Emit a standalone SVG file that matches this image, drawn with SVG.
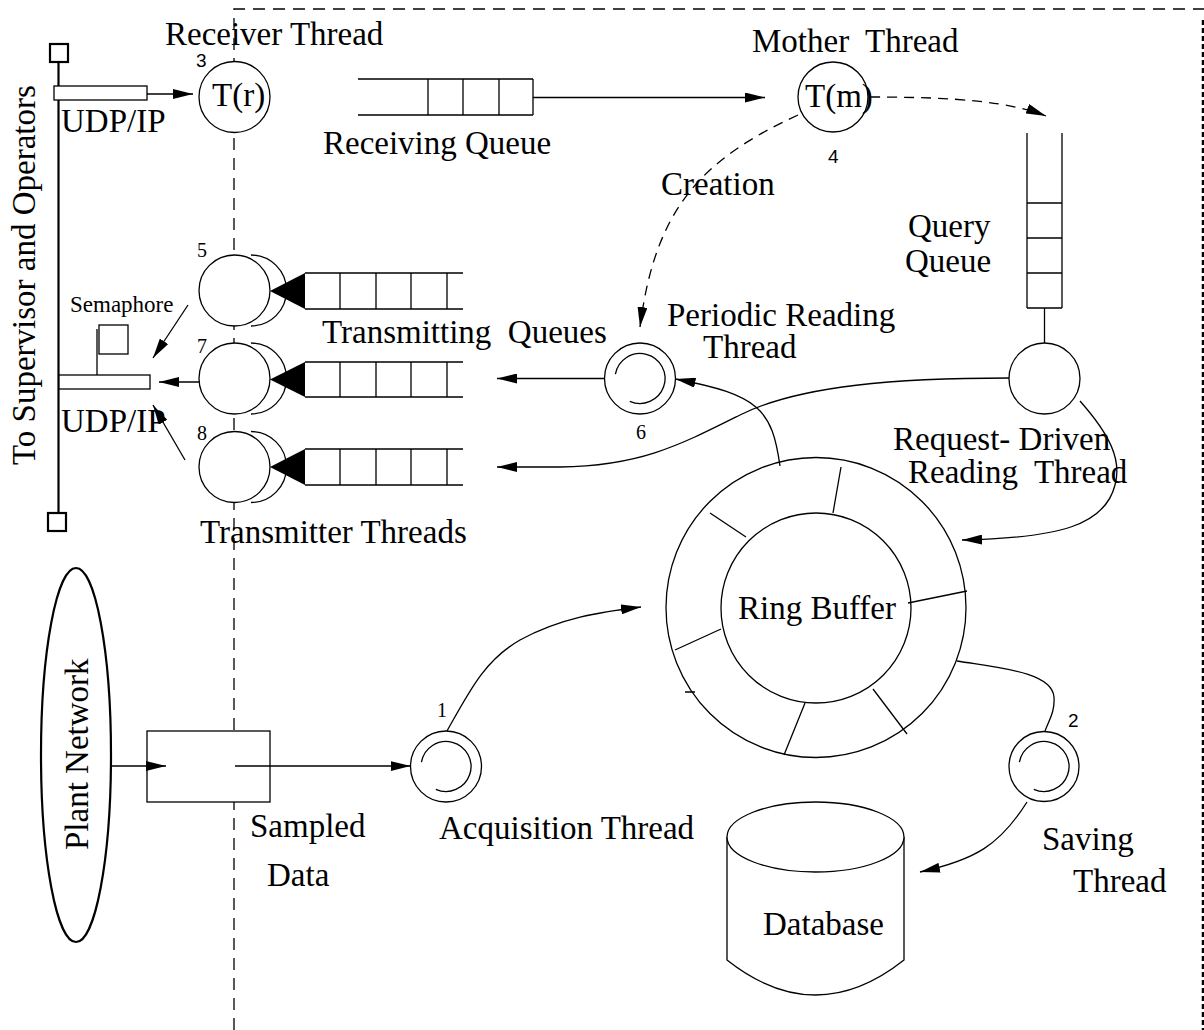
<svg xmlns="http://www.w3.org/2000/svg" width="1204" height="1030" viewBox="0 0 1204 1030">
<style>
.ln{stroke:#000;stroke-width:1.3;fill:none}
.nd{stroke:#000;stroke-width:1.3;fill:#fff}
.th{stroke:#000;stroke-width:2.2;fill:none}
.ds{stroke:#000;stroke-width:1.3;fill:none;stroke-dasharray:10 7}
.bd{stroke:#000;stroke-width:1.3;fill:none;stroke-dasharray:12 8}
.tf{fill:#000;stroke:none}
text{font-family:"Liberation Serif","Times New Roman",serif;font-size:33px;fill:#000}
text.num{font-size:20px}
text.sn{font-family:"Liberation Sans",Arial,sans-serif;font-size:19px}
text.sm{font-size:23px}
</style>
<defs>
<marker id="ah" viewBox="0 0 20 10" refX="20" refY="5" markerWidth="20" markerHeight="10" markerUnits="userSpaceOnUse" orient="auto"><path d="M0,0 L20,5 L0,10 z" fill="#000"/></marker>
</defs>
<rect width="1204" height="1030" fill="#fff"/>
<g id="boundary">
<path class="bd" d="M234,1030 V9 H1204"/>
<path d="M1203,20 V1030" stroke="#000" stroke-width="2.5" stroke-dasharray="5 3" fill="none"/>
</g>
<g id="supervisor-bus">
<line class="th" x1="58.5" y1="62" x2="58.5" y2="513"/>
<rect class="th" x="50" y="44" width="18" height="18"/>
<rect class="th" x="48" y="513" width="18" height="18"/>
<text transform="translate(35,465) rotate(-90)">To Supervisor and Operators</text>
</g>
<g id="udp-in">
<rect class="nd" x="54" y="86" width="93" height="14"/>
<text x="61" y="132">UDP/IP</text>
</g>
<g id="receiver">
<circle class="nd" cx="234.5" cy="97" r="35.5"/>
<text x="212" y="106">T(r)</text>
<text x="165" y="45">Receiver Thread</text>
<text class="sn" x="196" y="67">3</text>
</g>
<g id="receiving-queue">
<path class="ln" d="M358,79 H533 M358,115 H533 M428,79 V115 M463,79 V115 M499,79 V115 M533,79 V115"/>
<text x="323" y="154">Receiving Queue</text>
</g>
<g id="mother">
<circle class="nd" cx="833" cy="97" r="35"/>
<text x="805" y="107">T(m)</text>
<text x="752" y="52" xml:space="preserve">Mother  Thread</text>
<text class="sn" x="828" y="163">4</text>
</g>
<g id="query-queue">
<path class="ln" d="M1027,133 V308 M1062,133 V308 M1027,203 H1062 M1027,238 H1062 M1027,273 H1062 M1027,308 H1062"/>
<text x="908" y="237">Query</text>
<text x="905" y="272">Queue</text>
</g>
<g id="request-driven">
<circle class="nd" cx="1044.5" cy="378.5" r="35.5"/>
<text x="893" y="450">Request- Driven</text>
<text x="908" y="483" xml:space="preserve">Reading  Thread</text>
</g>
<g id="periodic">
<circle class="nd" cx="640" cy="378.5" r="35.5"/>
<path class="ln" d="M615.4,374.2 A25,25 0 1 1 629.8,401.3"/>
<text x="667" y="326">Periodic Reading</text>
<text x="703" y="358">Thread</text>
<text class="num" x="636" y="439">6</text>
</g>
<g id="transmitter-5">
<path class="ln" d="M251,255 A35.5,35.5 0 0 1 251,326"/>
<circle class="nd" cx="234.5" cy="290.5" r="35.5"/>
<path class="ln" d="M305,273 H463 M305,309 H463 M340,273 V309 M376,273 V309 M411,273 V309 M447,273 V309"/>
<polygon class="tf" points="270,291 305,273 305,309"/>
<text class="num" x="197" y="257">5</text>
</g>
<g id="transmitter-7">
<path class="ln" d="M251,343 A35.5,35.5 0 0 1 251,414"/>
<circle class="nd" cx="234.5" cy="378.5" r="35.5"/>
<path class="ln" d="M305,362 H463 M305,397 H463 M340,362 V397 M376,362 V397 M411,362 V397 M447,362 V397"/>
<polygon class="tf" points="270,379.5 305,362 305,397"/>
<text class="num" x="197" y="353">7</text>
</g>
<g id="transmitter-8">
<path class="ln" d="M251,431.5 A35.5,35.5 0 0 1 251,502.5"/>
<circle class="nd" cx="234.5" cy="467" r="35.5"/>
<path class="ln" d="M305,449 H463 M305,485 H463 M340,449 V485 M376,449 V485 M411,449 V485 M447,449 V485"/>
<polygon class="tf" points="270,467 305,449 305,485"/>
<text class="num" x="197" y="440">8</text>
</g>
<g id="transmitter-labels">
<text x="322" y="343" xml:space="preserve">Transmitting  Queues</text>
<text x="200" y="543">Transmitter Threads</text>
</g>
<g id="udp-out">
<rect class="nd" x="59" y="375" width="91" height="14"/>
<line class="ln" x1="97" y1="329" x2="97" y2="375"/>
<rect class="ln" x="99" y="325" width="29" height="29"/>
<text class="sm" x="70" y="312">Semaphore</text>
<text x="61" y="432">UDP/IP</text>
</g>
<g id="ring-buffer">
<circle class="ln" cx="816" cy="607.5" r="150"/>
<circle class="ln" cx="816" cy="608" r="95"/>
<path class="ln" d="M710,513 L746,537 M841,467 L833,513 M908,603 L967,591 M675,650 L721,629 M685,692 L695,692 M805,703 L784,755 M873,689 L907,734"/>
<text x="738" y="619">Ring Buffer</text>
</g>
<g id="plant-network">
<ellipse class="th" cx="76" cy="755" rx="35" ry="187"/>
<text transform="translate(88,850) rotate(-90)">Plant Network</text>
</g>
<g id="sampled-data">
<rect class="nd" x="147" y="731" width="123" height="71"/>
<text x="250" y="837">Sampled</text>
<text x="267" y="886">Data</text>
</g>
<g id="acquisition">
<circle class="nd" cx="446" cy="766.5" r="35.5"/>
<path class="ln" d="M421.4,762.2 A25,25 0 1 1 435.8,789.3"/>
<text class="num" x="437" y="717">1</text>
<text x="439" y="839">Acquisition Thread</text>
</g>
<g id="saving">
<circle class="nd" cx="1044" cy="766.5" r="35"/>
<path class="ln" d="M1019.4,762.2 A25,25 0 1 1 1033.8,789.3"/>
<text class="sn" x="1068" y="727">2</text>
<text x="1042" y="850">Saving</text>
<text x="1073" y="892">Thread</text>
</g>
<g id="database">
<path class="nd" d="M727,837 V960 Q815.5,1030 904,960 V837"/>
<ellipse class="nd" cx="815.5" cy="837" rx="88.5" ry="35"/>
<text x="763" y="935">Database</text>
</g>
<g id="connectors">
<path class="ln" marker-end="url(#ah)" d="M111,766 L166,766"/>
<path class="ln" marker-end="url(#ah)" d="M235,766 L410.5,766"/>
<path class="ln" marker-end="url(#ah)" d="M447,731 C470,690 485,660 520,640 C560,618 600,612 641,607"/>
<path class="ln" d="M957,661 C1000,668 1052,672 1054,697 C1055,712 1049,720 1045,731"/>
<path class="ln" marker-end="url(#ah)" d="M1027,802 C1000,845 975,860 920,872"/>
<path class="ln" marker-end="url(#ah)" d="M780,466 C772,410 760,395 675.5,379"/>
<path class="ln" marker-end="url(#ah)" d="M604,378.5 L497,378.5"/>
<path class="ln" marker-end="url(#ah)" d="M1009,378 C900,378 800,385 740,415 C680,445 640,466 560,467 L497,467"/>
<path class="ln" marker-end="url(#ah)" d="M1080,401 C1110,435 1122,460 1115,485 C1105,525 1060,538 962,540"/>
<path class="ln" d="M1044.5,308 V343"/>
<path class="ds" marker-end="url(#ah)" d="M870,97 C960,97 1010,102 1046,116"/>
<path class="ds" marker-end="url(#ah)" d="M798,115 C700,160 655,210 640,327"/>
<text x="661" y="195">Creation</text>
<path class="ln" marker-end="url(#ah)" d="M533,97.5 L765,97.5"/>
<path class="ln" marker-end="url(#ah)" d="M147,94 L193,94"/>
<path class="ln" marker-end="url(#ah)" d="M188,305 L153,358"/>
<path class="ln" marker-end="url(#ah)" d="M199,382 L159,382"/>
<path class="ln" marker-end="url(#ah)" d="M185,460 L153,405"/>
</g>
</svg>
